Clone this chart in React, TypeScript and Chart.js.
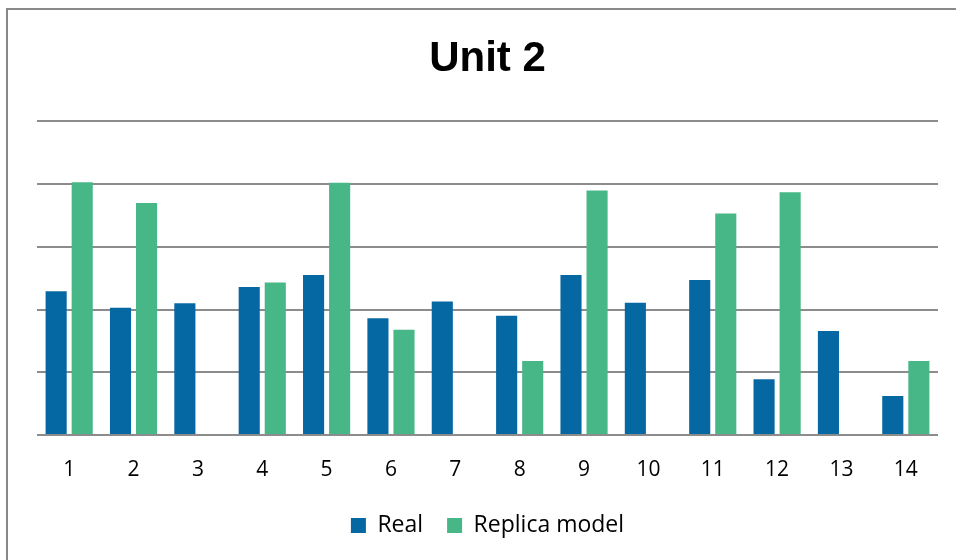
import React, { useEffect, useRef } from "react";
import { Chart, registerables } from "chart.js";

Chart.register(...registerables);

const categories = ["1", "2", "3", "4", "5", "6", "7", "8", "9", "10", "11", "12", "13", "14"];
const realValues = [2.29, 2.03, 2.1, 2.36, 2.55, 1.86, 2.13, 1.9, 2.55, 2.11, 2.47, 0.89, 1.66, 0.62];
const replicaValues = [4.03, 3.7, null, 2.43, 4.02, 1.68, null, 1.18, 3.9, null, 3.53, 3.87, null, 1.18];
const titleText = "Unit 2";
const seriesNames = ["Real", "Replica model"];

const frame = {
  id: "frame",
  beforeDraw(chart: any) {
    const ctx = chart.ctx;
    ctx.save();
    ctx.fillStyle = "#ffffff";
    ctx.fillRect(0, 0, chart.width, chart.height);
    ctx.strokeStyle = "#898989";
    ctx.lineWidth = 2;
    ctx.strokeRect(7, 9, 2000, 2000);
    ctx.restore();
  },
};

export default function App() {
  const ref = useRef<HTMLCanvasElement>(null);
  useEffect(() => {
    document.body.style.margin = "0";
    const chart = new Chart(ref.current!, {
      type: "bar",
      data: {
        labels: categories,
        datasets: [
          { label: seriesNames[0], data: realValues, backgroundColor: "#0668A2", categoryPercentage: 0.81, barPercentage: 0.81 },
          { label: seriesNames[1], data: replicaValues as any, backgroundColor: "#48B787", categoryPercentage: 0.81, barPercentage: 0.81 },
        ],
      },
      options: {
        responsive: false,
        animation: false,
        layout: { padding: { left: 37, right: 18, top: 0, bottom: 13 } },
        plugins: {
          title: {
            display: true,
            text: titleText,
            color: "#000000",
            font: { family: "Liberation Sans", size: 42, weight: "bold" },
            padding: { top: 34, bottom: 37 },
          },
          legend: {
            position: "bottom",
            labels: {
              color: "#000000",
              font: { family: "Open Sans", size: 23 },
              boxWidth: 15,
              boxHeight: 15,
              padding: 24,
            },
          },
          tooltip: { enabled: false },
        },
        scales: {
          x: {
            grid: { display: false, drawTicks: false },
            border: { display: false },
            ticks: { color: "#000000", font: { family: "Open Sans", size: 21 }, padding: 22, maxRotation: 0 },
            afterFit: (s: any) => { s.height = 55; },
          },
          y: {
            min: 0,
            max: 5,
            ticks: { display: false, stepSize: 1 },
            grid: { color: "#8c8c8c", lineWidth: 2, drawTicks: false },
            border: { display: false },
          },
        },
      },
      plugins: [frame],
    });
    return () => chart.destroy();
  }, []);
  return <canvas ref={ref} width={956} height={560} />;
}
